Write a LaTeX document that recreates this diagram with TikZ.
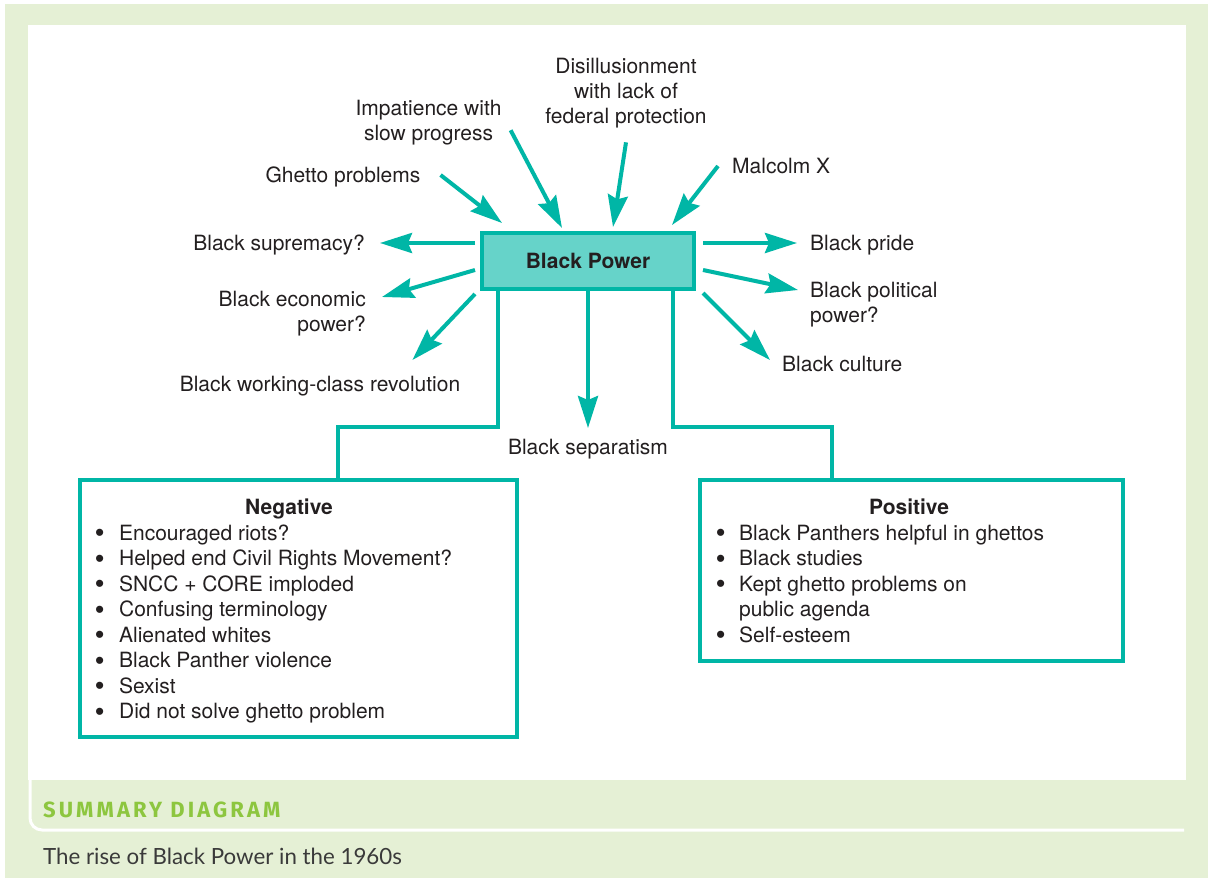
\documentclass[tikz,border=0pt]{standalone}
\usepackage{fontspec}
\setmainfont{TeX Gyre Heros}
\newfontfamily\titlefont[LetterSpace=14]{Fira Sans}
\newfontfamily\capfont{Lato}
\newfontfamily\bulletfont{Liberation Sans}
\usetikzlibrary{arrows.meta}

\definecolor{bpteal}{HTML}{00B6A6}
\definecolor{bpfill}{HTML}{66D3C9}
\definecolor{pagegreen}{HTML}{E5F0D5}
\definecolor{titlegreen}{HTML}{8DC63F}
\definecolor{ink}{HTML}{231F20}
\definecolor{capink}{HTML}{3A3A3A}

\newcommand{\bul}{\raisebox{-1.5pt}{\scalebox{1.25}{\bulletfont\textbullet}}}

\tikzset{
  lbl/.style={font=\fontsize{21}{25}\selectfont, text=ink, inner sep=0pt, align=center},
  arr/.style={draw=bpteal, line width=4pt, -{Stealth[length=32pt,width=20pt,inset=4pt]}},
  link/.style={draw=bpteal, line width=4pt},
  bpbox/.style={draw=bpteal, fill=bpfill, line width=4pt, rectangle, inner sep=0pt,
    font=\fontsize{21}{25}\selectfont\bfseries, text=ink},
  listbox/.style={draw=bpteal, fill=white, line width=4pt, rectangle, inner sep=0pt},
  listtext/.style={font=\fontsize{21}{25.5}\selectfont, text=ink, inner sep=0pt}
}

\begin{document}
\begin{tikzpicture}[x=1pt,y=-1pt]
\useasboundingbox (0,0) rectangle (1210,878);

% page frame
\fill[white] (0,0) rectangle (1210,878);
\fill[pagegreen] (5,4) rectangle (1208,878);
\fill[white] (28,25) rectangle (1186,780);
\draw[white, line width=3pt] (30,779) -- (30,818) arc[start angle=180, end angle=90, radius=12] -- (1184,830);

% central node
\node[bpbox, minimum width=212pt, minimum height=56pt] (bp) at (588,261) {Black Power};

% causes
\node[lbl] (dis) at (626,93.2) {Disillusionment\\with lack of\\federal protection};
\node[lbl] (imp) at (428.5,122.6) {Impatience with\\slow progress};
\node[lbl, anchor=base] (ghetto) at (343,182.5) {Ghetto problems};
\node[lbl, anchor=base west] (mal) at (732,173.5) {Malcolm X};

% outcomes
\node[lbl, anchor=base east] (sup) at (365,250.5) {Black supremacy?};
\node[lbl, anchor=east, align=right] (eco) at (366,313.6) {Black economic\\power?};
\node[lbl, anchor=base] (work) at (320,391.5) {Black working-class revolution};
\node[lbl, anchor=base west] (pride) at (810,250.5) {Black pride};
\node[lbl, anchor=west, align=left] (pol) at (810,304.6) {Black political\\power?};
\node[lbl, anchor=base west] (cul) at (782,371.5) {Black culture};
\node[lbl, anchor=base] (sep) at (588,454) {Black separatism};

% incoming arrows
\draw[arr] ([xshift=20pt,yshift=7.5pt]ghetto.base east) -- ([xshift=22pt,yshift=8pt]bp.north west);
\draw[arr] ([xshift=9pt,yshift=15pt]imp.south east) -- ([xshift=-26pt,yshift=3pt]bp.north);
\draw[arr] ([yshift=-14pt]dis.south) -- ([xshift=25pt,yshift=4pt]bp.north);
\draw[arr] ([xshift=-14pt,yshift=7.5pt]mal.base west) -- ([xshift=-24pt,yshift=6pt]bp.north east);

% outgoing arrows
\draw[arr] ([xshift=-5pt,yshift=18pt]bp.west) -- ([xshift=15pt,yshift=7.5pt]sup.base east);
\draw[arr] ([xshift=-5pt,yshift=-9pt]bp.west) -- ([xshift=16pt,yshift=16.6pt]eco.east);
\draw[arr] ([xshift=-5pt,yshift=-3pt]bp.south west) -- ([xshift=-48pt,yshift=31.5pt]work.base east);
\draw[arr] ([xshift=7pt,yshift=18pt]bp.east) -- ([xshift=-13pt,yshift=7.5pt]pride.base west);
\draw[arr] ([xshift=7pt,yshift=-9pt]bp.east) -- ([xshift=-12pt,yshift=14.6pt]pol.west);
\draw[arr] ([xshift=7pt,yshift=-2pt]bp.south east) -- ([xshift=-12pt,yshift=11.5pt]cul.base west);
\draw[arr] (bp.south) -- ([yshift=26pt]sep.base);

% assessment boxes
\node[listbox, minimum width=437pt, minimum height=257pt] (neg) at (298.5,608.5) {};
\node[listbox, minimum width=423pt, minimum height=181pt] (pos) at (911.5,570.5) {};

\draw[link] ([xshift=18pt]bp.south west) -- ++(0,136) -| ([xshift=39.5pt]neg.north);
\draw[link] ([xshift=-23pt]bp.south east) -- ++(0,136) -| ([xshift=-79.5pt]pos.north);

\node[lbl, anchor=base, font=\fontsize{21}{25}\selectfont\bfseries] (neghead) at (289,514.5) {Negative};
\node[listtext, anchor=north west] (negitems) at (95,522.2) {%
  \begin{tabular}{@{}l@{\hspace{14.7pt}}l@{}}
  \bul & Encouraged riots?\\
  \bul & Helped end Civil Rights Movement?\\
  \bul & SNCC + CORE imploded\\
  \bul & Confusing terminology\\
  \bul & Alienated whites\\
  \bul & Black Panther violence\\
  \bul & Sexist\\
  \bul & Did not solve ghetto problem
  \end{tabular}};

\node[lbl, anchor=base, font=\fontsize{21}{25}\selectfont\bfseries] (poshead) at (909,514.5) {Positive};
\node[listtext, anchor=north west] (positems) at (716,522.2) {%
  \begin{tabular}{@{}l@{\hspace{13.8pt}}l@{}}
  \bul & Black Panthers helpful in ghettos\\
  \bul & Black studies\\
  \bul & Kept ghetto problems on\\
       & public agenda\\
  \bul & Self-esteem
  \end{tabular}};

% caption strip
\node[anchor=base west, inner sep=0pt, text=titlegreen, font=\titlefont\fontsize{22}{26}\selectfont\bfseries] (sumtitle) at (43,817) {SUMMARY DIAGRAM};
\node[anchor=base west, inner sep=0pt, text=capink, font=\capfont\fontsize{22.3}{27}\selectfont] (caption) at (43,864) {The rise of Black Power in the 1960s};
\end{tikzpicture}
\end{document}
